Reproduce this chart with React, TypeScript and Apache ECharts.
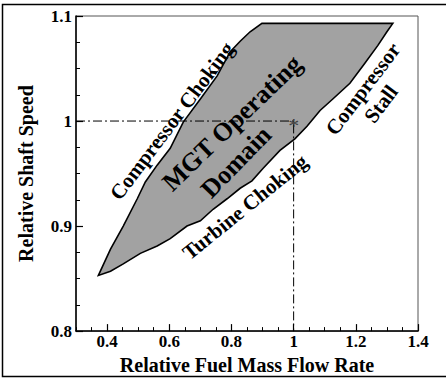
import React, { useEffect, useRef } from "react";
import * as echarts from "echarts";

// Operating domain boundary (relative fuel mass flow rate, relative shaft speed)
const boundaryFlow = [
  0.372, 0.411, 0.452, 0.497, 0.523, 0.561, 0.603, 0.645, 0.700, 0.754, 0.796, 0.828, 0.860, 0.898,
  1.319,
  1.300, 1.271, 1.229, 1.181, 1.126, 1.085, 1.043, 1.004, 0.956, 0.902, 0.866, 0.828, 0.786, 0.741,
  0.700, 0.657, 0.603, 0.561, 0.507, 0.452, 0.411,
];
const boundarySpeed = [
  0.853, 0.878, 0.900, 0.926, 0.942, 0.958, 0.974, 0.999, 1.021, 1.043, 1.066, 1.076, 1.085, 1.093,
  1.093,
  1.085, 1.072, 1.055, 1.036, 1.021, 1.010, 0.995, 0.983, 0.972, 0.955, 0.943, 0.936, 0.926, 0.916,
  0.905, 0.900, 0.888, 0.881, 0.874, 0.864, 0.857,
];
// Design point and its reference lines
const designFlow = [1.0];
const designSpeed = [1.0];
const refLineFlow = [0.3, 1.0, 1.0];
const refLineSpeed = [1.0, 1.0, 0.8];

const xMajorTicks = [0.4, 0.6, 0.8, 1.0, 1.2, 1.4];

const FONT = "'Liberation Serif', 'Times New Roman', serif";

export default function App() {
  const ref = useRef<HTMLDivElement>(null);
  useEffect(() => {
    const chart = echarts.init(ref.current!, null, { renderer: "svg" });
    const polyData = boundaryFlow.map((x, i) => [x, boundarySpeed[i]]);
    const txt = (text: string, x: number, y: number, deg: number, size = 21) => ({
      type: "text",
      x,
      y,
      rotation: (deg * Math.PI) / 180,
      silent: true,
      z: 100,
      style: {
        text,
        fill: "#000",
        font: `bold ${size}px ${FONT}`,
        align: "center",
        verticalAlign: "middle",
      },
    });
    chart.setOption({
      animation: false,
      backgroundColor: "#fff",
      grid: { left: 76, right: 28, top: 16, bottom: 48, show: true, borderColor: "#555", borderWidth: 1 },
      xAxis: [
        {
          type: "value",
          min: 0.3,
          max: 1.4,
          position: "bottom",
          axisLine: { show: true, lineStyle: { color: "#000", width: 1.5 } },
          axisTick: { show: true, inside: true, length: 7, customValues: xMajorTicks, lineStyle: { color: "#000", width: 1.2 } },
          axisLabel: {
            customValues: xMajorTicks,
            color: "#000",
            fontFamily: FONT,
            fontWeight: "bold",
            fontSize: 17,
            margin: 2,
            formatter: (v: number) => String(Math.round(v * 10) / 10),
          },
          splitLine: { show: false },
          name: "Relative Fuel Mass Flow Rate",
          nameLocation: "middle",
          nameGap: 17,
          nameTextStyle: { color: "#000", fontFamily: FONT, fontWeight: "bold", fontSize: 20, verticalAlign: "top" },
        },
        {
          type: "value",
          min: 0.3,
          max: 1.4,
          interval: 0.05,
          position: "bottom",
          offset: 0,
          axisLine: { show: false },
          axisTick: { show: true, inside: true, length: 4, lineStyle: { color: "#000", width: 1 } },
          axisLabel: { show: false },
          splitLine: { show: false },
        },
      ],
      yAxis: {
        type: "value",
        min: 0.8,
        max: 1.1,
        interval: 0.1,
        axisLine: { show: true, lineStyle: { color: "#000", width: 1.5 } },
        axisTick: { show: true, inside: true, length: 7, lineStyle: { color: "#000", width: 1.2 } },
        minorTick: { show: true, splitNumber: 4, length: 4, lineStyle: { color: "#000", width: 1 } },
        axisLabel: {
          color: "#000",
          fontFamily: FONT,
          fontWeight: "bold",
          fontSize: 17,
          margin: 4,
          formatter: (v: number) => String(Math.round(v * 10) / 10),
        },
        splitLine: { show: false },
        name: "Relative Shaft Speed",
        nameLocation: "middle",
        nameGap: 40,
        nameRotate: 90,
        nameTextStyle: { color: "#000", fontFamily: FONT, fontWeight: "bold", fontSize: 20 },
      },
      series: [
        {
          type: "custom",
          xAxisIndex: 0,
          z: 2,
          data: polyData,
          encode: { x: 0, y: 1 },
          renderItem: (params: any, api: any) => {
            if (params.dataIndex !== 0) return null;
            const pts = polyData.map((p) => api.coord(p));
            return {
              type: "polygon",
              shape: { points: pts },
              style: { fill: "#a2a2a2", stroke: "#000", lineWidth: 1.6 },
            };
          },
        },
        {
          type: "line",
          xAxisIndex: 0,
          z: 3,
          data: refLineFlow.map((x, i) => [x, refLineSpeed[i]]),
          symbol: "none",
          lineStyle: { color: "#000", width: 1, type: [9, 3, 2, 3] },
        },
        {
          type: "scatter",
          xAxisIndex: 0,
          z: 4,
          data: designFlow.map((x, i) => [x, designSpeed[i]]),
          symbolSize: 1,
          itemStyle: { color: "transparent" },
          label: {
            show: true,
            position: "inside",
            formatter: "*",
            color: "#222",
            fontFamily: FONT,
            fontSize: 22,
            offset: [0, 4],
          },
        },
      ],
      graphic: [
        {
          type: "rect",
          silent: true,
          z: -1,
          shape: { x: 2.5, y: 4.5, width: 460, height: 372 },
          style: { fill: "none", stroke: "#000", lineWidth: 1.5 },
        },
        txt("Compressor Choking", 172, 121, 53),
        txt("MGT Operating", 232, 123, 44, 26),
        txt("Domain", 236, 162, 46, 26),
        txt("Turbine Choking", 245, 207, 39),
        txt("Compressor", 363, 89, 53),
        txt("Stall", 381, 104, 53),
      ],
    });
    return () => chart.dispose();
  }, []);
  return <div ref={ref} style={{ position: "fixed", left: 0, top: 0, width: 446, height: 380 }} />;
}
